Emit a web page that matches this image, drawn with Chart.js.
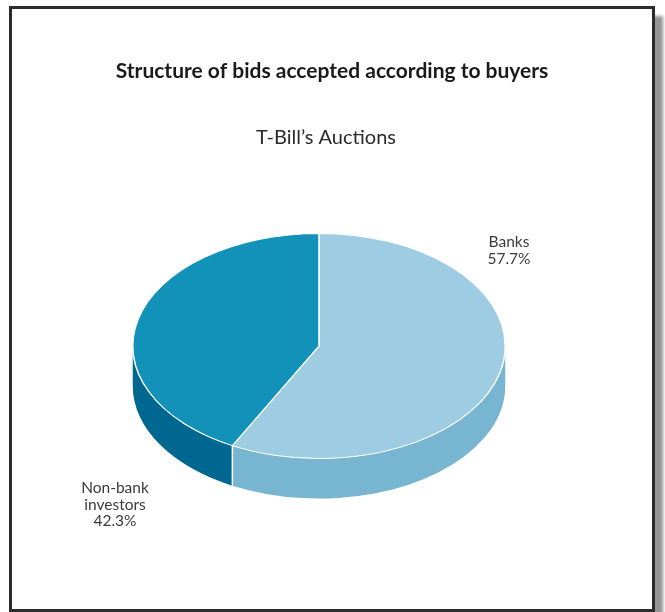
<!DOCTYPE html>
<html>
<head>
<meta charset="utf-8">
<script src="https://cdn.jsdelivr.net/npm/chart.js@4.4.0/dist/chart.umd.min.js"></script>
<style>
  html, body { margin: 0; padding: 0; background: #fff; }
  #wrap { position: relative; width: 665px; height: 612px; overflow: hidden; }
  #frame {
    position: absolute; left: 9px; top: 6px; width: 640px; height: 600px;
    border: 3px solid #2b2b2b; background: #fff;
    box-shadow: 8px 10px 3px rgba(0, 0, 0, 0.42);
  }
  #chart { position: absolute; left: 0; top: 0; }
</style>
</head>
<body>
<div id="wrap">
  <div id="frame"></div>
  <canvas id="chart" width="665" height="612"></canvas>
</div>
<script>
// 낙찰 구조 (매수자별)
const categories = ['Banks', 'Non-bank investors'];
const shares = [57.7, 42.3];
const topColors = ['#9dcce3', '#1292b8'];
const sideColors = ['#78b5d1', '#006890'];
// 라벨 줄바꿈, 위치
const labelLines = [['Banks'], ['Non-bank', 'investors']];
const labelPos = [[509, 242], [115, 488]];

const TILT = 113 / 187;   // 타원 세로/가로 비율
const DEPTH = 40;         // 옆면 두께 (px)

// [a, b] 구간 중 화면 아래쪽(0 ~ PI)에 보이는 부분
function visibleRanges(a, b) {
  const out = [];
  for (const k of [-1, 0, 1]) {
    const lo = Math.max(a, 2 * Math.PI * k);
    const hi = Math.min(b, 2 * Math.PI * k + Math.PI);
    if (hi > lo) out.push([lo, hi]);
  }
  return out;
}

const pie3d = {
  id: 'pie3d',
  beforeDatasetsDraw(chart) {
    const ctx = chart.ctx;
    const arcs = chart.getDatasetMeta(0).data;
    const cx = arcs[0].x, cy = arcs[0].y;
    ctx.save();
    ctx.translate(cx, cy);
    ctx.scale(1, TILT);
    ctx.translate(-cx, -cy);
    const d = DEPTH / TILT;
    arcs.forEach((arc, i) => {
      const p = arc.getProps(['startAngle', 'endAngle', 'outerRadius']);
      visibleRanges(p.startAngle, p.endAngle).forEach(([a, b]) => {
        const r = p.outerRadius;
        ctx.beginPath();
        ctx.arc(cx, cy, r, a, b);
        ctx.lineTo(cx + r * Math.cos(b), cy + d + r * Math.sin(b));
        ctx.arc(cx, cy + d, r, b, a, true);
        ctx.closePath();
        ctx.fillStyle = sideColors[i];
        ctx.fill();
      });
    });
    // 옆면 경계선
    arcs.forEach(arc => {
      const p = arc.getProps(['startAngle', 'outerRadius']);
      let t = p.startAngle;
      while (t < 0) t += 2 * Math.PI;
      while (t > 2 * Math.PI) t -= 2 * Math.PI;
      if (t > 0.01 && t < Math.PI - 0.01) {
        const x = cx + p.outerRadius * Math.cos(t);
        const y = cy + p.outerRadius * Math.sin(t);
        ctx.save();
        ctx.setTransform(1, 0, 0, 1, 0, 0);
        ctx.beginPath();
        ctx.moveTo(x, cy + (y - cy) * TILT);
        ctx.lineTo(x, cy + (y - cy) * TILT + DEPTH);
        ctx.strokeStyle = '#ffffff';
        ctx.lineWidth = 1.5;
        ctx.stroke();
        ctx.restore();
      }
    });
  },
  afterDatasetsDraw(chart) {
    chart.ctx.restore();
  },
  afterDraw(chart) {
    const ctx = chart.ctx;
    ctx.save();
    ctx.textAlign = 'center';
    ctx.textBaseline = 'middle';
    ctx.fillStyle = '#1a1a1a';
    ctx.font = 'bold 21px Lato';
    ctx.fillText('Structure of bids accepted according to buyers', 332, 71);
    ctx.fillStyle = '#2a2a2a';
    ctx.font = '20px Lato';
    ctx.fillText('T-Bill\u2019s Auctions', 326, 138);
    ctx.fillStyle = '#3a3a3a';
    ctx.font = '15.5px Lato';
    shares.forEach((v, i) => {
      const lines = labelLines[i].concat([v.toFixed(1) + '%']);
      lines.forEach((s, j) => ctx.fillText(s, labelPos[i][0], labelPos[i][1] + j * 16.5));
    });
    ctx.restore();
  }
};

new Chart(document.getElementById('chart'), {
  type: 'pie',
  data: {
    labels: categories,
    datasets: [{
      data: shares,
      backgroundColor: topColors,
      borderColor: '#ffffff',
      borderWidth: 1.5
    }]
  },
  options: {
    responsive: false,
    animation: false,
    events: [],
    layout: { padding: { left: 132, right: 159, top: 159, bottom: 79 } },
    plugins: {
      legend: { display: false },
      tooltip: { enabled: false },
      title: { display: false }
    }
  },
  plugins: [pie3d]
});
</script>
</body>
</html>
